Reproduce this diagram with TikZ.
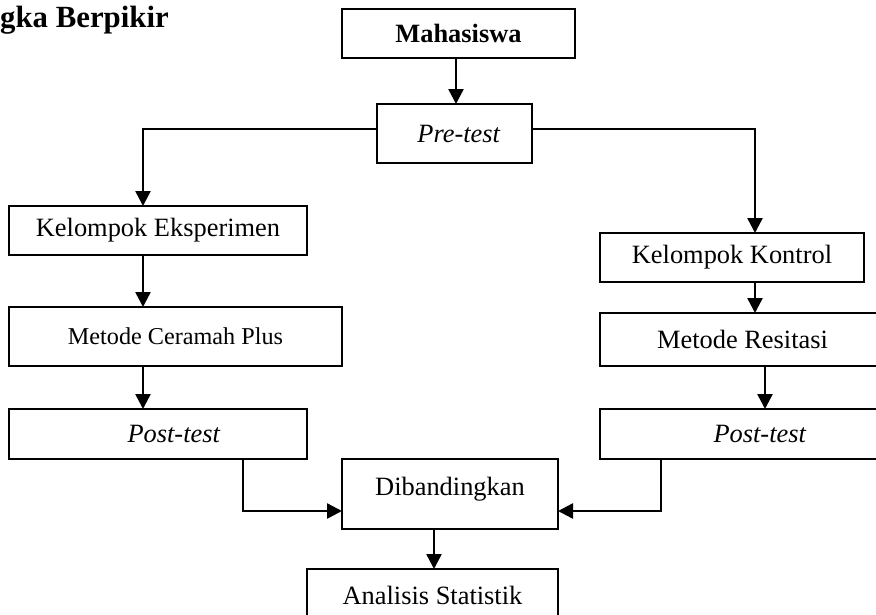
\documentclass[tikz,border=0pt]{standalone}
\usepackage{fontspec}
\setmainfont{Liberation Serif}
\usetikzlibrary{arrows.meta,positioning}
\tikzset{
  block/.style   = {draw, rectangle, line width=2pt, inner sep=2pt, outer sep=0pt,
                    font=\fontsize{26.4}{30}\selectfont},
  flow/.style    = {-{Triangle[width=15pt,length=15pt]}, line width=2.5pt},
  heading/.style = {anchor=base west, inner sep=0pt, font=\fontsize{30.8}{36}\selectfont\bfseries}
}
\begin{document}
\begin{tikzpicture}[x=1pt, y=-1pt]
      \path[use as bounding box, clip] (0,0) rectangle (876,614);
      \node[heading] (title) at (0,27) {gka Berpikir};
      \node[block, minimum width=233pt, minimum height=49pt, font=\fontsize{26.4}{30}\selectfont\bfseries] (mhs) at (458.5,33.5) {Mahasiswa};
      \node[block, minimum width=155pt, minimum height=59pt] (pre) [below=46pt of mhs, xshift=-4pt] {\hspace*{9pt}\textit{Pre-test}};
      % left branch
      \node[block, minimum width=298pt, minimum height=49pt] (eksp) at (158,230.5) {Kelompok Eksperimen};
      \node[block, minimum width=333pt, minimum height=59pt, font=\fontsize{24.2}{28}\selectfont] (ceramah) [below=52pt of eksp, xshift=17.5pt] {Metode Ceramah Plus};
      \node[block, minimum width=298pt, minimum height=50pt] (postL) [below=43pt of ceramah, xshift=-17.5pt] {\hspace*{32pt}\textit{Post-test}};
      % right branch
      \node[block, minimum width=264pt, minimum height=49pt] (kontrol) at (732,257.5) {Kelompok Kontrol};
      \node[block, minimum width=285pt, minimum height=53pt] (resitasi) [below=31pt of kontrol, xshift=10.5pt] {Metode Resitasi};
      \node[block, minimum width=320pt, minimum height=50pt] (postR) [below=43pt of resitasi, xshift=17.5pt] {\textit{Post-test}};
      % bottom
      \node[block, minimum width=216pt, minimum height=70pt, text depth=16pt] (dib) at (450,494) {Dibandingkan};
      \node[block, minimum width=251pt, minimum height=52pt] (analisis) [below=40pt of dib, xshift=-17.5pt] {Analisis Statistik};
      %Connectors
      \draw[flow] ([xshift=-2.5pt]mhs.south) -- ([xshift=1.5pt]pre.north);
      \draw[flow] ([yshift=4.5pt]pre.west) -| ([xshift=-15pt]eksp.north);
      \draw[flow] ([yshift=4.5pt]pre.east) -| ([xshift=23pt]kontrol.north);
      \draw[flow] ([xshift=-15pt]eksp.south) -- ([xshift=-32.5pt]ceramah.north);
      \draw[flow] ([xshift=-32.5pt]ceramah.south) -- ([xshift=-15pt]postL.north);
      \draw[flow] ([xshift=23pt]kontrol.south) -- ([xshift=12.5pt]resitasi.north);
      \draw[flow] ([xshift=22.5pt]resitasi.south) -- ([xshift=5pt]postR.north);
      \draw[flow] ([xshift=85pt]postL.south) |- ([yshift=-17pt]dib.west);
      \draw[flow] ([xshift=-99pt]postR.south) |- ([yshift=-17pt]dib.east);
      \draw[flow] ([xshift=-16pt]dib.south) -- ([xshift=1.5pt]analisis.north);
\end{tikzpicture}
\end{document}
